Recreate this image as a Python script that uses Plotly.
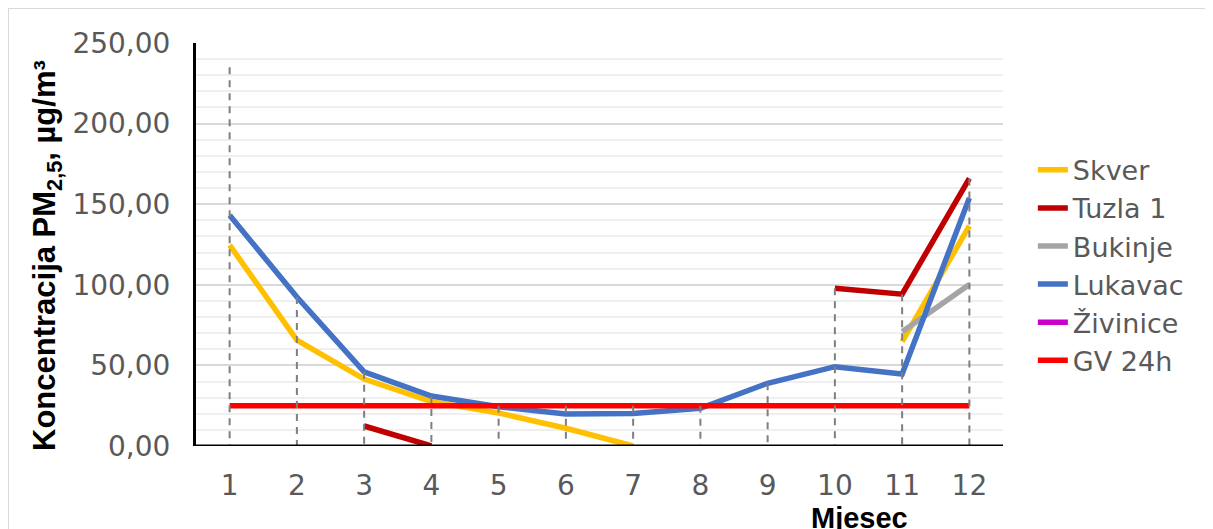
import plotly.graph_objects as go

months = [1, 2, 3, 4, 5, 6, 7, 8, 9, 10, 11, 12]
skver = [124.6, 65.7, 41.5, 27.5, 20.5, 11.0, 0.0, None, None, None, 64.7, 136.5]
tuzla1 = [None, None, 12.4, 0.0, None, None, None, None, None, 97.8, 94.2, 166.0]
bukinje = [None, None, None, None, None, None, None, None, None, None, 70.9, 100.2]
lukavac = [143.2, 92.4, 46.0, 31.0, 24.4, 19.8, 20.2, 23.4, 38.9, 49.2, 44.6, 153.9]
zivinice = [235.0, None, None, None, None, None, None, None, None, None, None, None]
gv24h = [25, 25, 25, 25, 25, 25, 25, 25, 25, 25, 25, 25]

series = [
    ("Skver", skver, "#FFC000"),
    ("Tuzla 1", tuzla1, "#C00000"),
    ("Bukinje", bukinje, "#A5A5A5"),
    ("Lukavac", lukavac, "#4472C4"),
    ("Živinice", zivinice, "#CC00CC"),
    ("GV 24h", gv24h, "#FF0000"),
]

FONT = "DejaVu Sans, sans-serif"
TFONT = "Liberation Sans, Arial, sans-serif"
fig = go.Figure()

for name, vals, col in series:
    fig.add_trace(go.Scatter(
        x=months, y=vals, name=name, mode="lines",
        line=dict(color=col, width=5.5), connectgaps=False,
    ))

# drop lines from the highest point of all series down to the axis
dx, dy = [], []
for i, m in enumerate(months):
    vals = [s[1][i] for s in series if s[1][i] is not None]
    top = max(vals)
    dx += [m, m, None]
    dy += [top, 0, None]
fig.add_trace(go.Scatter(
    x=dx, y=dy, mode="lines", showlegend=False, hoverinfo="skip",
    line=dict(color="#7F7F7F", width=2, dash="7px,6px"),
))

# page has an 8px body margin; figure pixels = page pixels - 8
fig.update_layout(
    width=1213, height=529,
    margin=dict(l=188, r=218, t=35, b=91),
    paper_bgcolor="white", plot_bgcolor="white",
    separators=", ",
    font=dict(family=FONT, size=28, color="#595959"),
    showlegend=True,
    legend=dict(
        x=1.037, y=0.745, xanchor="left", yanchor="top",
        font=dict(family=FONT, size=27, color="#595959"),
        tracegroupgap=0, bgcolor="rgba(0,0,0,0)",
    ),
    xaxis=dict(
        range=[0.5, 12.5], tickmode="array", tickvals=months,
        ticktext=[str(m) for m in months], showgrid=False, zeroline=False,
        showline=False, ticks="", ticklabelstandoff=20,
        tickfont=dict(family=FONT, size=28, color="#595959"),
    ),
    yaxis=dict(
        range=[0, 250], dtick=50, tickformat=".2f", showgrid=True,
        gridcolor="#D9D9D9", gridwidth=1.5, zeroline=False,
        showline=True, linecolor="black", linewidth=3, ticks="",
        ticklabelstandoff=17,
        minor=dict(dtick=10, showgrid=True, gridcolor="#EFEFEF", gridwidth=1.5),
        tickfont=dict(family=FONT, size=28, color="#595959"),
    ),
    shapes=[
        dict(type="line", xref="paper", yref="y", x0=0, x1=1, y0=0, y1=0,
             line=dict(color="black", width=3), layer="above"),
        dict(type="rect", xref="paper", yref="paper",
             x0=(8 - 196) / 807, x1=(1240 - 196) / 807,
             y0=(446 - 560) / 403, y1=(446 - 8) / 403,
             line=dict(color="#D9D9D9", width=2), layer="below"),
    ],
    annotations=[
        dict(text="<b>Koncentracija PM<sub>2,5</sub>, µg/m³</b>", xref="paper", yref="paper",
             x=(47 - 196) / 807, y=(446 - 256) / 403, textangle=-90, showarrow=False,
             xanchor="center", yanchor="middle",
             font=dict(family=TFONT, size=31, color="black")),
        dict(text="<b>Mjesec</b>", xref="paper", yref="paper",
             x=(859 - 196) / 807, y=(446 - 518) / 403, showarrow=False,
             xanchor="center", yanchor="middle",
             font=dict(family=TFONT, size=29, color="black")),
    ],
)

fig.write_html("out.html")
